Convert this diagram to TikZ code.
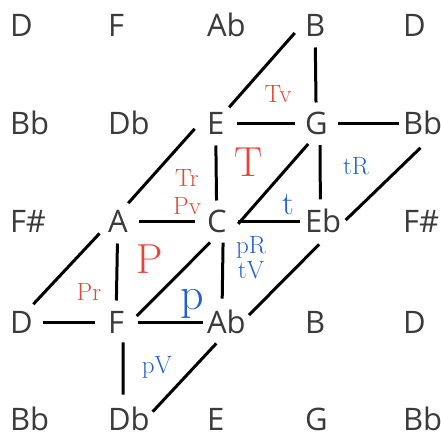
\documentclass[tikz,border=0pt]{standalone}
\usepackage{fontspec}
\newfontfamily\notefont{Open Sans}
\definecolor{notegray}{HTML}{3A3A3A}
\definecolor{opred}{HTML}{E8453A}
\definecolor{opblue}{HTML}{1F5FD2}
\begin{document}
\begin{tikzpicture}
[x=1pt, y=-1pt, line width=3pt,
note/.style={circle, minimum size=40pt, inner sep=0pt, anchor=text, text=notegray,
  text height=22pt, text depth=0pt, font=\notefont\fontsize{31}{31}\selectfont},
op/.style={anchor=base, font=\fontsize{25}{25}\selectfont},
big op/.style={anchor=base, font=\fontsize{42}{42}\selectfont},
red op/.style={text=opred}, blue op/.style={text=opblue}]
\useasboundingbox (0,0) rectangle (441,435);

\node[note] (D1) at (10,37) {D};
\node[note] (F1) at (108,37) {F};
\node[note] (Ab1) at (207,37) {Ab};
\node[note] (B) at (305,37) {B};
\node[note] (D2) at (403,37) {D};

\node[note] (Bb1) at (10,135) {Bb};
\node[note] (Db1) at (108,135) {Db};
\node[note] (E) at (207,135) {E};
\node[note] (G) at (305,135) {G};
\node[note] (Bb) at (403,135) {Bb};

\node[note] (Fs1) at (10,233) {F\#};
\node[note] (A) at (108,233) {A};
\node[note] (C) at (207,233) {C};
\node[note] (Eb) at (305,233) {Eb};
\node[note] (Fs2) at (403,233) {F\#};

\node[note] (D) at (10,333) {D};
\node[note] (F) at (108,333) {F};
\node[note] (Ab) at (207,333) {Ab};
\node[note] (B2) at (305,333) {B};
\node[note] (D3) at (403,333) {D};

\node[note] (Bb2) at (10,430) {Bb};
\node[note] (Db) at (108,430) {Db};
\node[note] (E2) at (207,430) {E};
\node[note] (G2) at (305,430) {G};
\node[note] (Bb3) at (403,430) {Bb};

\node[op, red op] (Tv) at (278,103) {Tv};
\node[op, red op] (Tr) at (187,187) {Tr};
\node[op, red op] (Pv) at (187,215) {Pv};
\node[big op, red op] (T) at (249,177) {T};
\node[big op, red op] (P) at (150,273) {P};
\node[op, red op] (Pr) at (89,300) {Pr};

\node[big op, blue op, font=\fontsize{33}{33}\selectfont] (t) at (288,215) {t};
\node[op, blue op] (tR) at (356,175) {tR};
\node[big op, blue op, font=\fontsize{46}{46}\selectfont] (p) at (192,309) {p};
\node[op, blue op] (pR) at (251,254) {pR};
\node[op, blue op] (tV) at (251,278) {tV};
\node[op, blue op] (pV) at (157,373) {pV};

\draw (E.51) -- (B.199);
\draw (B) -- (G);
\draw (E) -- (G);
\draw (G) -- (Bb);
\draw (A.61) -- (E.193);
\draw (E) -- (C);
\draw (C.-5) -- (G.248);
\draw (G.-80) -- (Eb.97);
\draw (A) -- (C);
\draw (C) -- (Eb);
\draw (Eb.5) -- (Bb.265);

\draw (A.212) -- (D.56);
\draw (A) -- (F);
\draw (C.252) -- (F.16);
\draw (C.-73) -- (Ab.100);
\draw (Eb.260) -- (Ab.17);
\draw (D) -- (F);
\draw (F) -- (Ab);
\draw (F.-71) -- (Db.103);
\draw (Ab.245) -- (Db.17);
\end{tikzpicture}
\end{document}
